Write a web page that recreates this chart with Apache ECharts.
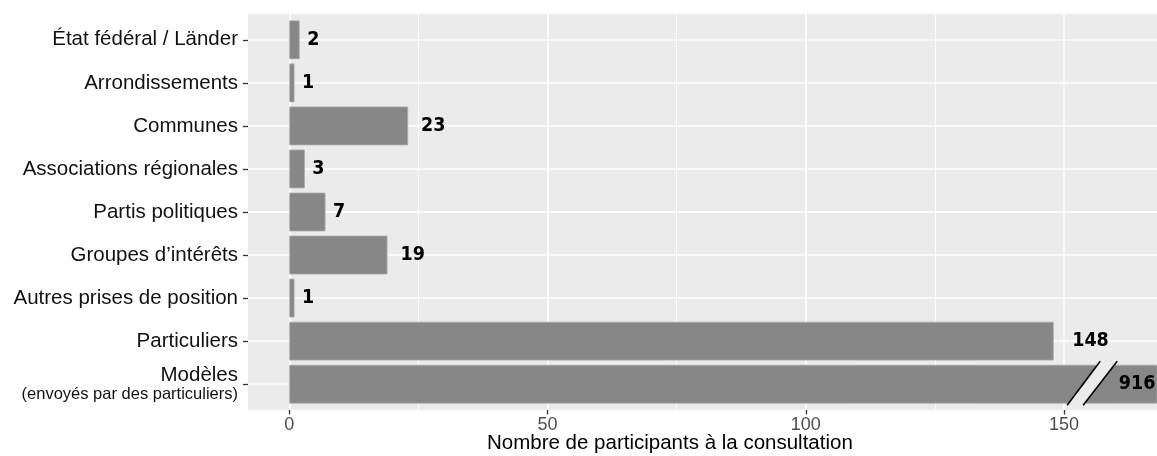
<!DOCTYPE html>
<html>
<head>
<meta charset="utf-8">
<script src="https://cdn.jsdelivr.net/npm/echarts@6/dist/echarts.min.js"></script>
<style>
html,body{margin:0;padding:0;background:#fff;}
#chart{width:1157px;height:456px;}
</style>
</head>
<body>
<div id="chart"></div>
<script>
const categories = [
  'État fédéral / Länder',
  'Arrondissements',
  'Communes',
  'Associations régionales',
  'Partis politiques',
  'Groupes d’intérêts',
  'Autres prises de position',
  'Particuliers',
  'Modèles\n(envoyés par des particuliers)'
];
const values = [2, 1, 23, 3, 7, 19, 1, 148, 916];
const xTickValues = [0, 50, 100, 150];
const xMinorValues = [25, 75, 125];
const xTitle = 'Nombre de participants à la consultation';
const brokenCategory = 'Modèles\n(envoyés par des particuliers)';

const chart = echarts.init(document.getElementById('chart'), null, {renderer: 'canvas'});

const PANEL_BG = '#EBEBEB';
const BAR = '#878787';
const X_MIN = -8, X_MAX = 168;
const FONT = 'Liberation Sans, Arial, sans-serif';
const INVISIBLE_LINE = {show: true, onZero: false, lineStyle: {color: 'rgba(0,0,0,0)', width: 0}};

const barData = values.map((v, i) => {
  const len = String(v).length;
  const item = {value: v, label: {distance: 2 + len * 5.5}};
  if (categories[i] === brokenCategory) {
    item.label = {position: 'insideRight', distance: 2};
  }
  return item;
});

const option = {
  animation: false,
  title: {
    text: xTitle, left: 487, top: 433, padding: 0,
    textStyle: {fontSize: 20.5, fontWeight: 'normal', color: '#000', fontFamily: FONT}
  },
  grid: [
    {left: 248, right: 0, top: 14, bottom: 46, show: true, backgroundColor: PANEL_BG, borderWidth: 0},
    {left: 248, right: 0, top: 18.3, bottom: 50.3, show: false}
  ],
  xAxis: [
    {
      gridIndex: 0, type: 'value', min: X_MIN, max: X_MAX,
      axisLine: INVISIBLE_LINE,
      splitLine: {show: false},
      axisTick: {show: true, customValues: xTickValues, length: 4.5, lineStyle: {color: '#333', width: 1.3}},
      axisLabel: {customValues: xTickValues, color: '#4D4D4D', fontSize: 18, fontFamily: FONT, margin: 6, verticalAlign: 'top'}
    },
    {
      gridIndex: 1, type: 'value', min: X_MIN, max: X_MAX, show: false
    }
  ],
  yAxis: [
    {gridIndex: 0, type: 'value', min: 0, max: 1, show: false},
    {
      gridIndex: 1, type: 'category', data: categories, inverse: true,
      axisLine: INVISIBLE_LINE,
      splitLine: {show: false},
      axisTick: {show: true, alignWithLabel: true, length: 5, lineStyle: {color: '#333', width: 1.3}},
      axisLabel: {
        margin: 10, color: '#111', fontSize: 20.5, fontFamily: FONT, align: 'right',
        formatter: function (v) {
          if (v.indexOf('\n') >= 0) {
            const parts = v.split('\n');
            return '{a|' + parts[0] + '}\n{b|' + parts[1] + '}';
          }
          return v;
        },
        rich: {
          a: {fontSize: 20.5, lineHeight: 20, color: '#111', fontFamily: FONT, align: 'right'},
          b: {fontSize: 16.5, lineHeight: 18, color: '#111', fontFamily: FONT, align: 'right'}
        }
      }
    }
  ],
  series: [
    {
      type: 'line', xAxisIndex: 0, yAxisIndex: 0, data: [], silent: true,
      markLine: {
        silent: true, symbol: 'none', label: {show: false}, animation: false,
        emphasis: {disabled: true},
        data: xTickValues.map(v => ({xAxis: v, lineStyle: {color: '#fff', width: 1.6, type: 'solid'}}))
          .concat(xMinorValues.map(v => ({xAxis: v, lineStyle: {color: '#fff', width: 0.9, type: 'solid'}})))
      }
    },
    {
      type: 'line', xAxisIndex: 1, yAxisIndex: 1, data: [], silent: true,
      markLine: {
        silent: true, symbol: 'none', label: {show: false}, animation: false,
        emphasis: {disabled: true},
        data: categories.map((c, i) => ({yAxis: i, lineStyle: {color: '#fff', width: 1.6, type: 'solid'}}))
      }
    },
    {
      type: 'bar', xAxisIndex: 1, yAxisIndex: 1, z: 10,
      data: barData,
      barCategoryGap: '10%',
      itemStyle: {color: BAR, borderColor: '#A9A9A9', borderWidth: 0.8},
      label: {
        show: true, position: 'right', color: '#000', fontWeight: 'bold',
        fontSize: 19.5, fontFamily: '"DejaVu Sans Condensed", "DejaVu Sans", sans-serif'
      },
      emphasis: {disabled: true}
    },
    {
      type: 'custom', xAxisIndex: 1, yAxisIndex: 1, z: 12, silent: true,
      data: [[150.6, brokenCategory]],
      encode: {x: 0, y: 1},
      renderItem: function (params, api) {
        const cat = api.value(1);
        const yc = api.coord([0, cat])[1];
        const px = v => api.coord([v, cat])[0];
        const yb = yc + 21, yt = yc - 23;
        const a1 = px(150.6), a2 = px(157.0), b1 = px(153.7), b2 = px(160.3);
        return {
          type: 'group',
          children: [
            {type: 'polygon', shape: {points: [[a1, yb], [a2, yt], [b2, yt], [b1, yb]]}, style: {fill: PANEL_BG}},
            {type: 'line', shape: {x1: a1, y1: yb, x2: a2, y2: yt}, style: {stroke: '#000', lineWidth: 1.6}},
            {type: 'line', shape: {x1: b1, y1: yb, x2: b2, y2: yt}, style: {stroke: '#000', lineWidth: 1.6}}
          ]
        };
      }
    }
  ]
};

chart.setOption(option);
</script>
</body>
</html>
